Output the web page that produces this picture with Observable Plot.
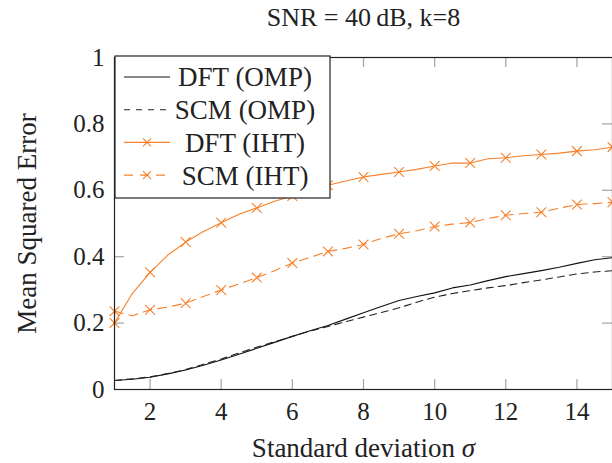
<!DOCTYPE html>
<html>
<head>
<meta charset="utf-8">
<script src="https://cdn.jsdelivr.net/npm/d3@7"></script>
<script src="https://cdn.jsdelivr.net/npm/@observablehq/plot@0.6"></script>
<style>
  html, body { margin: 0; padding: 0; background: #fff; }
  #chart { position: relative; width: 612px; height: 463px; }
  svg { font-family: "Liberation Serif", "DejaVu Serif", serif; }
</style>
</head>
<body>
<div id="chart"></div>
<script>
// ---- data ----
const sigma = [1,1.5,2,2.5,3,3.5,4,4.5,5,5.5,6,6.5,7,7.5,8,8.5,9,9.5,10,10.5,11,11.5,12,12.5,13,13.5,14,14.5,15];
const dftOmp = [0.027,0.031,0.037,0.047,0.059,0.073,0.089,0.106,0.124,0.142,0.160,0.177,0.193,0.212,0.231,0.250,0.268,0.280,0.291,0.306,0.315,0.328,0.340,0.349,0.358,0.368,0.380,0.391,0.397];
const scmOmp = [0.027,0.032,0.038,0.048,0.060,0.076,0.092,0.110,0.127,0.144,0.160,0.176,0.190,0.204,0.218,0.232,0.246,0.263,0.278,0.289,0.298,0.306,0.313,0.322,0.330,0.339,0.348,0.354,0.358];
const dftIht = [0.200,0.289,0.353,0.405,0.444,0.476,0.502,0.528,0.547,0.567,0.583,0.600,0.615,0.628,0.640,0.648,0.655,0.663,0.673,0.682,0.682,0.695,0.698,0.704,0.708,0.712,0.718,0.722,0.730];
const scmIht = [0.236,0.222,0.240,0.248,0.260,0.280,0.300,0.318,0.337,0.358,0.381,0.398,0.416,0.425,0.437,0.455,0.469,0.478,0.491,0.498,0.503,0.515,0.525,0.530,0.534,0.546,0.557,0.560,0.564];
const seriesNames = ["DFT (OMP)", "SCM (OMP)", "DFT (IHT)", "SCM (IHT)"];
const xTicks = [2,4,6,8,10,12,14];
const yTicks = [0,0.2,0.4,0.6,0.8,1];
const titleText = "SNR = 40\u2009dB, k=8";
const xLabel = "Standard deviation \u03c3";
const yLabel = "Mean Squared Error";

// ---- styles ----
const orange = "#f7812c";
const styles = {
  "DFT (OMP)": {stroke: "#111", dash: null, mark: false},
  "SCM (OMP)": {stroke: "#222", dash: "7,5", mark: false},
  "DFT (IHT)": {stroke: orange, dash: null, mark: true},
  "SCM (IHT)": {stroke: orange, dash: "9,6", mark: true}
};

const allSeries = [dftOmp, scmOmp, dftIht, scmIht];
const rows = [];
allSeries.forEach((vals, i) => vals.forEach((v, j) => rows.push({series: seriesNames[i], x: sigma[j], y: v})));

const lineMarks = seriesNames.map(name => Plot.line(rows.filter(r => r.series === name), {
  x: "x", y: "y", stroke: styles[name].stroke, strokeWidth: 1.1,
  strokeDasharray: styles[name].dash, curve: "linear"
}));
const dotMarks = seriesNames.filter(n => styles[n].mark).map(name => Plot.dot(
  rows.filter(r => r.series === name && Number.isInteger(r.x)),
  {x: "x", y: "y", symbol: "times", r: 4.5, stroke: styles[name].stroke, strokeWidth: 1.1}
));

const W = 612, H = 463, mL = 114, mR = 0, mT = 57, mB = 74;
const tickGray = "#aaa";

const plot = Plot.plot({
  width: W, height: H,
  marginLeft: mL, marginRight: mR, marginTop: mT, marginBottom: mB,
  style: {fontFamily: "Liberation Serif, serif", fontSize: "25px", background: "white", overflow: "visible"},
  x: {domain: [1, 15]},
  y: {domain: [0, 1]},
  marks: [
    // inner tick marks
    Plot.ruleX(xTicks, {x: d => d, y1: 0, y2: 0.03, stroke: tickGray, strokeWidth: 1.3}),
    Plot.ruleX(xTicks, {x: d => d, y1: 0.97, y2: 1, stroke: tickGray, strokeWidth: 1.3}),
    Plot.ruleY(yTicks.slice(1, -1), {y: d => d, x1: 1, x2: 1.28, stroke: tickGray, strokeWidth: 1.3}),
    Plot.ruleY(yTicks.slice(1, -1), {y: d => d, x1: 14.72, x2: 15, stroke: tickGray, strokeWidth: 1.3}),
    Plot.axisX(xTicks, {tickSize: 0, tickPadding: 13, fontSize: 25, fill: "#222", label: null}),
    Plot.axisY(yTicks, {tickSize: 0, tickPadding: 10, fontSize: 25, fill: "#222",
      tickFormat: d => String(d), label: null}),
    ...lineMarks,
    ...dotMarks,
    Plot.frame({stroke: "#222", strokeWidth: 1.2}),
    Plot.text([titleText], {text: d => d, frameAnchor: "top", lineAnchor: "middle", dy: -40, fontSize: 26, fill: "#222"}),
    Plot.text([xLabel], {text: d => d, frameAnchor: "bottom", lineAnchor: "middle", dy: 59, fontSize: 27, fill: "#222"}),
    Plot.text([yLabel], {text: d => d, frameAnchor: "left", textAnchor: "middle", lineAnchor: "middle",
      dx: -87, rotate: -90, fontSize: 27, fill: "#222"})
  ]
});

const svg = d3.select(plot);

// italic sigma in x label
svg.selectAll("text").each(function() {
  const t = d3.select(this);
  if (t.text() === xLabel) {
    t.text(null);
    t.append("tspan").text("Standard deviation ");
    t.append("tspan").attr("font-style", "italic").text("\u03c3");
  }
});

// legend (in pixel space inside the SVG)
const lg = svg.append("g").attr("font-size", 27).attr("fill", "#222");
const lx = mL + 1, ly = mT - 1, lw = 215, lh = 142;
lg.append("rect").attr("x", lx).attr("y", ly).attr("width", lw).attr("height", lh)
  .attr("fill", "white").attr("stroke", "#222").attr("stroke-width", 1.2);
seriesNames.forEach((name, i) => {
  const cy = ly + 21 + i * 32.7;
  const s = styles[name];
  lg.append("line").attr("x1", lx + 9).attr("x2", lx + 55).attr("y1", cy).attr("y2", cy)
    .attr("stroke", s.stroke).attr("stroke-width", 1.1)
    .attr("stroke-dasharray", s.dash ? (name === "SCM (IHT)" ? "9,7" : "6,6") : null);
  if (s.mark) {
    const mx = lx + 32, r = 4;
    lg.append("path").attr("d", `M${mx-r},${cy-r}L${mx+r},${cy+r}M${mx-r},${cy+r}L${mx+r},${cy-r}`)
      .attr("stroke", s.stroke).attr("stroke-width", 1.1).attr("fill", "none");
  }
  lg.append("text").attr("x", lx + 130).attr("y", cy).attr("dy", "0.35em")
    .attr("text-anchor", "middle").text(name);
});

document.getElementById("chart").appendChild(plot);
</script>
</body>
</html>
